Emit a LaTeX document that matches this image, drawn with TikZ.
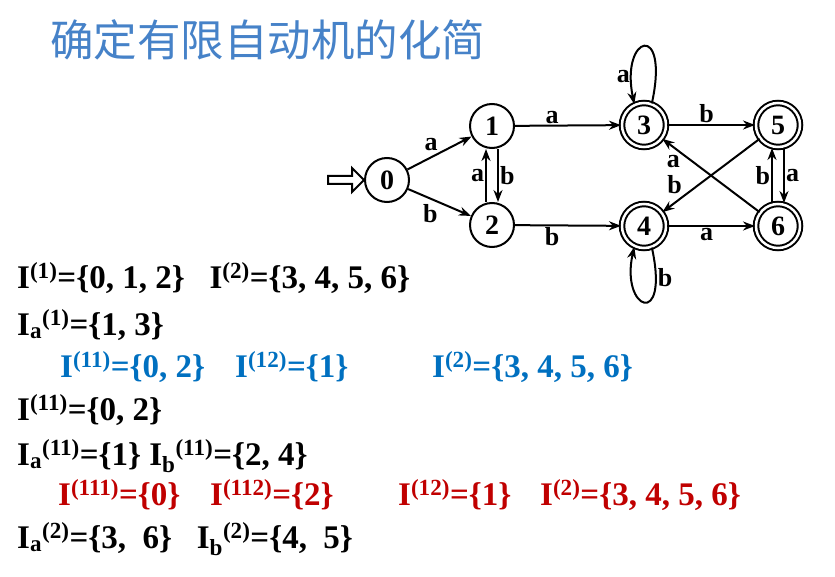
\documentclass[tikz,border=0pt]{standalone}
\usepackage{fontspec}
\setmainfont{Liberation Serif}
\newfontfamily\cjk{Noto Sans CJK SC}
\usetikzlibrary{shapes.arrows,arrows.meta}
\definecolor{ttl}{RGB}{70,130,200}
\definecolor{blu}{RGB}{0,112,192}
\definecolor{rd}{RGB}{192,0,0}
\begin{document}
\begin{tikzpicture}[x=1pt,y=-1pt,
 st/.style={circle,draw,line width=2pt,minimum size=44pt,inner sep=0pt,font=\bfseries\fontsize{28}{28}\selectfont},
 acc/.style={st,double,double distance=2.5pt,minimum size=44pt},
 tr/.style={-{Stealth[length=12pt,width=9pt]},line width=2pt},
 lb/.style={font=\bfseries\fontsize{26}{26}\selectfont,inner sep=1pt},
 tx/.style={anchor=base west,inner sep=0pt,font=\bfseries\fontsize{33}{33}\selectfont}]
\useasboundingbox (0,0) rectangle (835,577);
\node[anchor=west,text=ttl,font=\cjk\fontsize{43.5}{43.5}\selectfont,inner sep=0pt] (title) at (50,40) {确定有限自动机的化简};
\node[st] (n0) at (387,180) {0};
\node[st] (n1) at (492,126) {1};
\node[st] (n2) at (492,225) {2};
\node[acc] (n3) at (644,125) {3};
\node[acc] (n4) at (644,226) {4};
\node[acc] (n5) at (778,125) {5};
\node[acc] (n6) at (778,226) {6};
\node[single arrow,draw,line width=2pt,minimum height=36pt,minimum width=24pt,single arrow head extend=4pt,inner sep=1pt] (start) at (344,180) {};
\draw[tr] (n0) -- node[lb,above left] {a} (n1);
\draw[tr] (n0) -- node[lb,below left] {b} (n2);
\draw[tr] ([xshift=6pt]n1.south) -- node[lb,right] {b} ([xshift=6pt]n2.north);
\draw[tr] ([xshift=-6pt]n2.north) -- node[lb,left] {a} ([xshift=-6pt]n1.south);
\draw[tr] (n1) -- node[lb,above,pos=0.35] {a} (n3);
\draw[tr] (n2) -- node[lb,below,pos=0.35] {b} (n4);
\draw[tr] (n3) -- node[lb,above,pos=0.45] {b} (n5);
\draw[tr] (n4) -- node[lb,below,pos=0.45] {a} (n6);
\draw[tr] ([xshift=-6pt]n6.north) -- node[lb,left] {b} ([xshift=-6pt]n5.south);
\draw[tr] ([xshift=6pt]n5.south) -- node[lb,right] {a} ([xshift=6pt]n6.north);
\draw[tr] (n5) -- node[lb,pos=0.78,above left] {b} (n4);
\draw[tr] (n6) -- node[lb,pos=0.8,below left] {a} (n3);
\draw[tr] (n3.70) .. controls (670,20) and (620,35) .. node[lb,pos=0.85,left] {a} (n3.115);
\draw[tr] (n4.-70) .. controls (670,330) and (620,310) .. node[lb,pos=0.15,right] {b} (n4.-115);
\node[tx] (l1) at (17,288) {I\textsuperscript{(1)}=\{0, 1, 2\}\ \ \ I\textsuperscript{(2)}=\{3, 4, 5, 6\}};
\node[tx] (l2) at (17,335) {I\textsubscript{a}\textsuperscript{(1)}=\{1, 3\}};
\node[tx,text=blu] (l3a) at (60,377) {I\textsuperscript{(11)}=\{0, 2\}};
\node[tx,text=blu] (l3b) at (235,377) {I\textsuperscript{(12)}=\{1\}};
\node[tx,text=blu] (l3c) at (432,377) {I\textsuperscript{(2)}=\{3, 4, 5, 6\}};
\node[tx] (l4) at (17,420) {I\textsuperscript{(11)}=\{0, 2\}};
\node[tx] (l5) at (17,465) {I\textsubscript{a}\textsuperscript{(11)}=\{1\} I\textsubscript{b}\textsuperscript{(11)}=\{2, 4\}};
\node[tx,text=rd] (l6a) at (58,505) {I\textsuperscript{(111)}=\{0\}};
\node[tx,text=rd] (l6b) at (210,505) {I\textsuperscript{(112)}=\{2\}};
\node[tx,text=rd] (l6c) at (398,505) {I\textsuperscript{(12)}=\{1\}};
\node[tx,text=rd] (l6d) at (540,505) {I\textsuperscript{(2)}=\{3, 4, 5, 6\}};
\node[tx] (l7) at (17,548) {I\textsubscript{a}\textsuperscript{(2)}=\{3,\ \ 6\}\ \ \ I\textsubscript{b}\textsuperscript{(2)}=\{4,\ \ 5\}};
\end{tikzpicture}
\end{document}
